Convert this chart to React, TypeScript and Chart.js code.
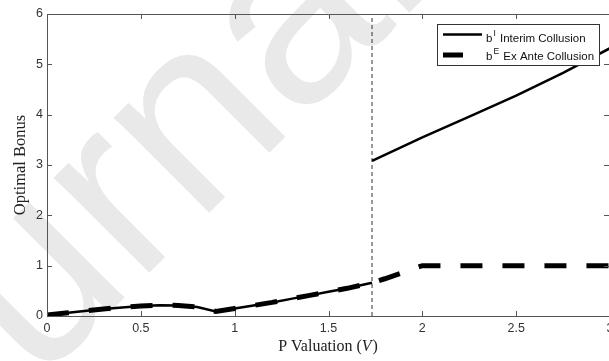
import React, { useEffect, useRef } from "react";
import { Chart, registerables } from "chart.js";

Chart.register(...registerables);

// ---- data ----
const V_LOW = [0, 0.1, 0.2, 0.3, 0.4, 0.5, 0.6, 0.7, 0.8, 0.9, 1.0, 1.1, 1.2, 1.3, 1.4, 1.5, 1.6, 1.732];
const B_LOW = [0.02, 0.06, 0.1, 0.14, 0.17, 0.2, 0.215, 0.21, 0.18, 0.09, 0.15, 0.21, 0.27, 0.34, 0.41, 0.48, 0.55, 0.66];

const V_INTERIM_HIGH = [1.732, 2.0, 2.25, 2.5, 2.75, 3.0];
const B_INTERIM_HIGH = [3.08, 3.55, 3.96, 4.38, 4.83, 5.32];

const V_EXANTE = [0, 0.1, 0.2, 0.3, 0.4, 0.5, 0.6, 0.7, 0.8, 0.9, 1.0, 1.1, 1.2, 1.3, 1.4, 1.5, 1.6, 1.732, 1.8, 1.9, 2.0, 2.5, 3.0];
const B_EXANTE = [0.02, 0.06, 0.1, 0.14, 0.17, 0.2, 0.215, 0.21, 0.18, 0.09, 0.15, 0.21, 0.27, 0.34, 0.41, 0.48, 0.55, 0.66, 0.74, 0.87, 1.0, 1.0, 1.0];

const THRESHOLD_V = 1.732;
const Y_RANGE = [0, 6];
const X_RANGE = [0, 3];

const LEGEND_BASE = ["b", "b"];
const LEGEND_SUP = ["I", "E"];
const LEGEND_TEXT = ["Interim Collusion", "Ex Ante Collusion"];

const X_TITLE_PARTS = ["P Valuation (", "V", ")"];
const Y_TITLE = "Optimal Bonus";
const WATERMARK = "Journal Pre-proof";

const toPts = (xs: number[], ys: number[]) => xs.map((x, i) => ({ x, y: ys[i] }));

const SANS = "'Liberation Sans', Arial, sans-serif";
const SERIF = "'Liberation Serif', 'Times New Roman', serif";

const watermarkPlugin = {
  id: "watermark",
  beforeDraw(chart: any) {
    const { ctx } = chart;
    ctx.save();
    ctx.translate(-154, 576);
    ctx.rotate(-Math.PI / 4);
    ctx.font = `255px ${SANS}`;
    ctx.fillStyle = "#e9e9e9";
    ctx.textAlign = "left";
    ctx.textBaseline = "alphabetic";
    ctx.fillText(WATERMARK, 0, 0);
    ctx.restore();
  },
};

const framePlugin = {
  id: "frame",
  afterDraw(chart: any) {
    const { ctx, chartArea: a, scales } = chart;
    const xs = scales.x, ys = scales.y;
    ctx.save();
    ctx.strokeStyle = "#555";
    ctx.lineWidth = 1;
    ctx.beginPath();
    ctx.moveTo(a.left, a.top + 0.5);
    ctx.lineTo(a.right, a.top + 0.5);
    ctx.moveTo(a.right - 0.5, a.top);
    ctx.lineTo(a.right - 0.5, a.bottom);
    ctx.stroke();
    ctx.beginPath();
    xs.ticks.forEach((t: any) => {
      const px = Math.round(xs.getPixelForValue(t.value)) + 0.5;
      ctx.moveTo(px, a.bottom);
      ctx.lineTo(px, a.bottom - 5);
      ctx.moveTo(px, a.top);
      ctx.lineTo(px, a.top + 5);
    });
    ys.ticks.forEach((t: any) => {
      const py = Math.round(ys.getPixelForValue(t.value)) + 0.5;
      ctx.moveTo(a.left, py);
      ctx.lineTo(a.left + 5, py);
      ctx.moveTo(a.right, py);
      ctx.lineTo(a.right - 6, py);
    });
    ctx.stroke();

    // axis titles
    ctx.fillStyle = "#222";
    ctx.font = `16px ${SERIF}`;
    ctx.textBaseline = "alphabetic";
    const w0 = ctx.measureText(X_TITLE_PARTS[0]).width;
    ctx.font = `italic 16px ${SERIF}`;
    const w1 = ctx.measureText(X_TITLE_PARTS[1]).width + 1;
    ctx.font = `16px ${SERIF}`;
    const w2 = ctx.measureText(X_TITLE_PARTS[2]).width;
    const total = w0 + w1 + w2;
    const x0 = 328 - total / 2;
    const by = 351;
    ctx.textAlign = "left";
    ctx.fillText(X_TITLE_PARTS[0], x0, by);
    ctx.font = `italic 16px ${SERIF}`;
    ctx.fillText(X_TITLE_PARTS[1], x0 + w0, by);
    ctx.font = `16px ${SERIF}`;
    ctx.fillText(X_TITLE_PARTS[2], x0 + w0 + w1, by);

    ctx.save();
    ctx.translate(25, (a.top + a.bottom) / 2);
    ctx.rotate(-Math.PI / 2);
    ctx.textAlign = "center";
    ctx.font = `16.5px ${SERIF}`;
    ctx.fillText(Y_TITLE, 0, 0);
    ctx.restore();

    // legend
    const lx = 437.5, ly = 24.5, lw = 162, lh = 41;
    ctx.fillStyle = "#fff";
    ctx.fillRect(lx, ly, lw, lh);
    ctx.strokeStyle = "#333";
    ctx.lineWidth = 1;
    ctx.strokeRect(lx, ly, lw, lh);
    const ds = chart.data.datasets;
    const rows = [
      { ds: ds[1], y: 34.5, x1: 443, x2: 482, tx: 486, base: 41.5 },
      { ds: ds[0], y: 55, x1: 443, x2: 463, tx: 486, base: 60 },
    ];
    rows.forEach((r, i) => {
      ctx.strokeStyle = r.ds.borderColor;
      ctx.lineWidth = r.ds.borderWidth;
      ctx.setLineDash([]);
      ctx.beginPath();
      ctx.moveTo(r.x1, r.y);
      ctx.lineTo(r.x2, r.y);
      ctx.stroke();
      ctx.fillStyle = "#111";
      ctx.textAlign = "left";
      ctx.font = `11.5px ${SANS}`;
      ctx.fillText(LEGEND_BASE[i], r.tx, r.base);
      const bw = ctx.measureText(LEGEND_BASE[i]).width;
      ctx.font = `8.5px ${SANS}`;
      ctx.fillText(LEGEND_SUP[i], r.tx + bw + 1, r.base - 6);
      const sw = ctx.measureText(LEGEND_SUP[i]).width;
      ctx.font = `11.5px ${SANS}`;
      ctx.fillText(" " + LEGEND_TEXT[i], r.tx + bw + 1 + sw + 1, r.base);
    });
    ctx.restore();
  },
};

const fmt = (v: any) => String(Number(v));

export default function App() {
  const ref = useRef<HTMLCanvasElement | null>(null);
  useEffect(() => {
    document.body.style.margin = "0";
    const canvas = ref.current!;
    const chart = new Chart(canvas, {
      type: "line",
      data: {
        datasets: [
          {
            label: "bE Ex Ante Collusion",
            data: toPts(V_EXANTE, B_EXANTE),
            borderColor: "#000",
            borderWidth: 5,
            borderDash: [22, 20],
            borderCapStyle: "butt",
            pointRadius: 0,
            tension: 0,
          },
          {
            label: "bI Interim Collusion",
            data: toPts(V_LOW, B_LOW),
            borderColor: "#000",
            borderWidth: 2.5,
            pointRadius: 0,
            tension: 0,
          },
          {
            label: "bI Interim Collusion (high)",
            data: toPts(V_INTERIM_HIGH, B_INTERIM_HIGH),
            borderColor: "#000",
            borderWidth: 2.5,
            pointRadius: 0,
            tension: 0,
          },
          {
            label: "threshold",
            data: [
              { x: THRESHOLD_V, y: Y_RANGE[0] },
              { x: THRESHOLD_V, y: Y_RANGE[1] },
            ],
            borderColor: "#333",
            borderWidth: 1,
            borderDash: [4, 3],
            pointRadius: 0,
          },
        ],
      } as any,
      options: {
        animation: false,
        responsive: false,
        maintainAspectRatio: false,
        layout: { padding: { top: 14, right: 10, left: 0, bottom: 0 } },
        plugins: { legend: { display: false }, tooltip: { enabled: false } },
        scales: {
          x: {
            type: "linear",
            min: X_RANGE[0],
            max: X_RANGE[1],
            ticks: {
              stepSize: 0.5,
              font: { family: SANS, size: 12.5 },
              color: "#333",
              padding: 5,
              maxRotation: 0,
              autoSkip: false,
              callback: fmt,
            },
            grid: { drawOnChartArea: false, drawTicks: false },
            border: { color: "#555" },
            afterFit: (s: any) => {
              s.height = 45;
            },
          },
          y: {
            type: "linear",
            min: Y_RANGE[0],
            max: Y_RANGE[1],
            ticks: {
              stepSize: 1,
              font: { family: SANS, size: 12.5 },
              color: "#333",
              padding: 4,
              callback: fmt,
            },
            grid: { drawOnChartArea: false, drawTicks: false },
            border: { color: "#555" },
            afterFit: (s: any) => {
              s.width = 47;
            },
          },
        },
      } as any,
      plugins: [watermarkPlugin, framePlugin],
    });
    return () => chart.destroy();
  }, []);
  return (
    <div style={{ width: 609, height: 361, overflow: "hidden", background: "#fff" }}>
      <canvas ref={ref} width={620} height={361} style={{ display: "block" }} />
    </div>
  );
}
